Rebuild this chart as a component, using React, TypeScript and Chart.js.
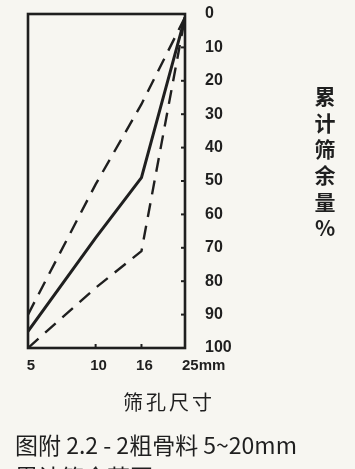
import React, { useEffect, useRef } from "react";
import { Chart, registerables } from "chart.js";

Chart.register(...registerables);

// Sieve openings (mm) and cumulative retained percentages
const sieveSizes = [5, 10, 16, 25];
const upperBound = [90, 51, 27, 1];
const midCurve = [95, 67, 49, 1];
const lowerBound = [100, 82, 71, 1];
const sieveLabels = ["5", "10", "16", "25mm"];

const INK = "#1f1f1f";
const PAPER = "#f7f6f1";
const TICK_FONT = "bold 15px 'Liberation Sans', Arial, sans-serif";
const CJK = "'Noto Sans CJK SC', 'Noto Sans', sans-serif";

const toPoints = (values: number[]) => sieveSizes.map((x, i) => ({ x, y: values[i] }));

// Frame, inner tick marks and the sieve-size labels under the frame
const framePlugin = {
  id: "frame",
  afterDraw(chart: any) {
    const { ctx, chartArea, scales } = chart;
    const { left, right, top, bottom } = chartArea;
    ctx.save();
    ctx.strokeStyle = INK;
    ctx.lineWidth = 2.6;
    ctx.strokeRect(left, top, right - left, bottom - top);

    ctx.lineWidth = 2;
    const y = scales.y;
    y.ticks.forEach((t: any) => {
      const py = y.getPixelForValue(t.value);
      ctx.beginPath();
      ctx.moveTo(right, py);
      ctx.lineTo(right - 4, py);
      ctx.stroke();
    });
    const x = scales.x;
    sieveSizes.slice(1, -1).forEach((v) => {
      const px = x.getPixelForValue(v);
      ctx.beginPath();
      ctx.moveTo(px, bottom);
      ctx.lineTo(px, bottom - 4);
      ctx.stroke();
    });

    ctx.fillStyle = INK;
    ctx.font = TICK_FONT;
    ctx.textBaseline = "middle";
    sieveSizes.forEach((v, i) => {
      const px = x.getPixelForValue(v);
      const last = i === sieveSizes.length - 1;
      ctx.textAlign = last ? "left" : "center";
      ctx.fillText(sieveLabels[i], last ? px - 3 : px + 3, bottom + 18);
    });
    ctx.restore();
  },
};

function GradingChart() {
  const ref = useRef<HTMLCanvasElement>(null);

  useEffect(() => {
    if (!ref.current) return;
    const dashed = { borderWidth: 2.4, borderDash: [14, 9] };
    const chart = new Chart(ref.current, {
      type: "line",
      data: {
        datasets: [
          { label: "上限", data: toPoints(upperBound), ...dashed },
          { label: "中值", data: toPoints(midCurve), borderWidth: 3 },
          { label: "下限", data: toPoints(lowerBound), ...dashed },
        ].map((d) => ({
          ...d,
          borderColor: INK,
          pointRadius: 0,
          tension: 0,
          fill: false,
        })),
      },
      options: {
        animation: false,
        responsive: false,
        events: [],
        layout: { padding: { left: 28, top: 14, right: 0, bottom: 0 } },
        plugins: { legend: { display: false }, tooltip: { enabled: false } },
        scales: {
          x: {
            type: "logarithmic",
            min: 5,
            max: 25,
            grid: { display: false, drawTicks: false },
            border: { display: false },
            ticks: { display: false },
            afterBuildTicks: (s: any) => {
              s.ticks = sieveSizes.map((v) => ({ value: v }));
            },
            afterFit: (s: any) => {
              s.height = 121;
              s.paddingLeft = 0;
              s.paddingRight = 0;
            },
          },
          y: {
            type: "linear",
            position: "right",
            reverse: true,
            min: 0,
            max: 100,
            grid: { display: false, drawTicks: false },
            border: { display: false },
            ticks: {
              stepSize: 10,
              padding: 20,
              color: INK,
              font: { family: "'Liberation Sans', Arial, sans-serif", size: 16, weight: "bold" },
            },
            afterFit: (s: any) => {
              s.width = 170;
              s.paddingTop = 0;
              s.paddingBottom = 0;
            },
          },
        },
      },
      plugins: [framePlugin],
    });
    return () => chart.destroy();
  }, []);

  return (
    <canvas
      ref={ref}
      width={355}
      height={469}
      style={{ position: "absolute", left: 0, top: 0, width: 355, height: 469 }}
    />
  );
}

export default function App() {
  return (
    <div
      style={{
        position: "fixed",
        left: 0,
        top: 0,
        width: 355,
        height: 469,
        overflow: "hidden",
        background: PAPER,
        color: INK,
        fontFamily: CJK,
      }}
    >
      <GradingChart />
      <div
        style={{
          position: "absolute",
          left: 313,
          top: 86,
          fontSize: 21,
          fontWeight: "bold",
          lineHeight: "24px",
          writingMode: "vertical-rl",
          textOrientation: "upright",
          letterSpacing: 5.3,
        }}
      >
        累计筛余量%
      </div>
      <div
        style={{
          position: "absolute",
          left: 0,
          width: 338,
          top: 391,
          textAlign: "center",
          fontSize: 20,
          lineHeight: "22px",
          letterSpacing: 3,
        }}
      >
        筛孔尺寸
      </div>
      <div
        style={{
          position: "absolute",
          left: 15,
          top: 432,
          fontSize: 23,
          lineHeight: "25px",
          whiteSpace: "nowrap",
        }}
      >
        图附 2.2 - 2粗骨料 5~20mm
      </div>
      <div
        style={{
          position: "absolute",
          left: 15,
          top: 464,
          fontSize: 23,
          lineHeight: "25px",
          whiteSpace: "nowrap",
        }}
      >
        累计筛余范围
      </div>
    </div>
  );
}
